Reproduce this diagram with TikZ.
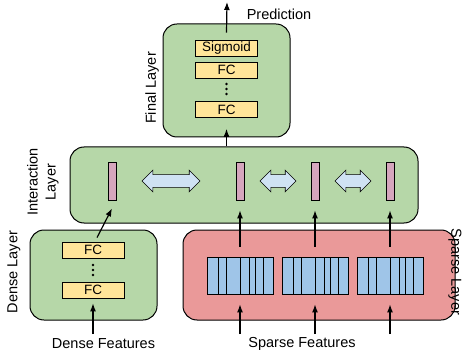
\documentclass[tikz,border=0pt]{standalone}
\usepackage{fontspec}
\setmainfont{Liberation Sans}
\usetikzlibrary{arrows.meta, shapes.arrows}
\definecolor{layergreen}{HTML}{B6D7A8}
\definecolor{layerred}{HTML}{EA9999}
\definecolor{fcyellow}{HTML}{FFE599}
\definecolor{embblue}{HTML}{9FC5E8}
\definecolor{vecpink}{HTML}{D5A6BD}
\definecolor{interblue}{HTML}{CFE2F3}

\begin{document}
\begin{tikzpicture}[x=1pt, y=-1pt,
  layer/.style={draw, line width=1pt, rounded corners=14pt, inner sep=0pt},
  fcbox/.style={draw, line width=0.8pt, fill=fcyellow, minimum width=62pt,
                minimum height=16pt, inner sep=0pt, font=\fontsize{13.5}{15}\selectfont},
  vec/.style={draw, line width=0.8pt, fill=vecpink, minimum width=8pt,
              minimum height=38pt, inner sep=0pt},
  table/.style={draw, line width=0.8pt, fill=embblue, minimum width=66pt,
                minimum height=37pt, inner sep=0pt},
  inter/.style={double arrow, draw, line width=0.6pt, fill=interblue,
                inner xsep=0pt, inner ysep=6pt, double arrow head extend=4.5pt},
  label/.style={font=\fontsize{14.5}{18}\selectfont, inner sep=0pt},
  arr/.style={line width=1.2pt, -{Latex[length=8pt, width=6pt]}},
]
\useasboundingbox (0,0) rectangle (462,355);

% layers
\node[layer, fill=layergreen, minimum width=127pt, minimum height=113pt] (final) at (226.5,80.5) {};
\node[layer, fill=layergreen, minimum width=348pt, minimum height=76pt] (inter) at (244,185) {};
\node[layer, fill=layergreen, minimum width=127pt, minimum height=90pt] (dense) at (93.5,275) {};
\node[layer, fill=layerred, minimum width=272pt, minimum height=90pt] (sparse) at (319,275) {};

% layer labels
\node[label, rotate=90] (lfinal) at (152,88) {Final Layer};
\node[label, rotate=90, align=center] (linter) at (43,182) {Interaction\\Layer};
\node[label, rotate=90] (ldense) at (14,272) {Dense Layer};
\node[label, rotate=-90] (lsparse) at (455,272) {Sparse Layer};

% final layer
\node[fcbox] (sig) at (226.5,48) {Sigmoid};
\node[fcbox] (ffc1) at (226.5,70) {FC};
\coordinate (fdots) at (226.5,89);
\node[fcbox] (ffc2) at (226.5,109.5) {FC};

% dense layer
\node[fcbox] (dfc1) at (93,250) {FC};
\coordinate (ddots) at (93,270);
\node[fcbox] (dfc2) at (93,290) {FC};

% vertical dots
\foreach \d in {fdots,ddots}
  \foreach \dy in {-5,0,5}
    \fill ([yshift=\dy pt]\d) circle (1.4pt);

% interaction layer
\node[vec] (b1) at (112,181) {};
\node[vec] (b2) at (240,181) {};
\node[vec] (b3) at (315,181) {};
\node[vec] (b4) at (390,181) {};
\node[inter, minimum height=58pt] (i1) at (171,181) {};
\node[inter, minimum height=36pt] (i2) at (278,181) {};
\node[inter, minimum height=36pt] (i3) at (353,181) {};

% sparse layer
\node[table] (t1) at (240,275.5) {};
\node[table] (t2) at (315,275.5) {};
\node[table] (t3) at (390,275.5) {};
\foreach \tab in {t1,t2,t3}
  \foreach \dx in {11.7,20,34,42.3,48.3,56.7}
    \draw[line width=0.8pt] ([xshift=\dx pt]\tab.south west) -- ([xshift=\dx pt]\tab.north west);

% inputs and output
\coordinate (din) at (93,334);
\coordinate (sin1) at (240,334);
\coordinate (sin2) at (315,334);
\coordinate (sin3) at (390,334);
\coordinate (pred) at (227,2);
\node[label] (dfeat) at (103.5,344) {Dense Features};
\node[label] (sfeat) at (302,344) {Sparse Features};
\node[label] (lpred) at (279,14) {Prediction};

% connectors
\draw[arr] (din) -- ([yshift=-5pt]dfc2.south);
\draw[arr] (sin1) -- ([yshift=-10pt]t1.south);
\draw[arr] (sin2) -- ([yshift=-10pt]t2.south);
\draw[arr] (sin3) -- ([yshift=-10pt]t3.south);
\draw[arr] ([yshift=10pt]t1.north) -- ([yshift=-10pt]b2.south);
\draw[arr] ([yshift=10pt]t2.north) -- ([yshift=-10pt]b3.south);
\draw[arr] ([yshift=10pt]t3.north) -- ([yshift=-10pt]b4.south);
\draw[arr] ([shift={(4pt,4pt)}]dfc1.north) -- ([yshift=-8pt]b1.south);
\draw[arr] (inter.north -| ffc2.south) -- ([yshift=-11pt]ffc2.south);
\draw[arr] ([yshift=7pt]sig.north) -- (pred);
\end{tikzpicture}
\end{document}
